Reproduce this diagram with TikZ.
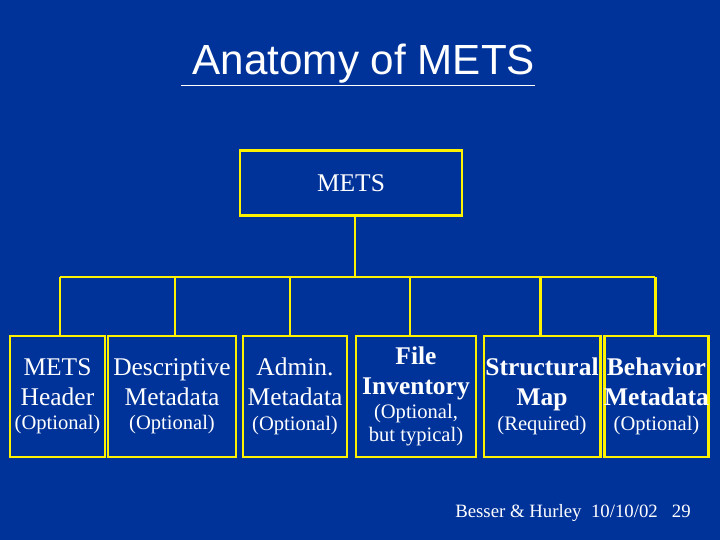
\documentclass[tikz,border=0pt]{standalone}
\usepackage{fontspec}
\setmainfont{Liberation Serif}
\setsansfont{Liberation Sans}
\definecolor{slideblue}{RGB}{0,51,153}
\newcommand\optsz{\fontsize{11.7}{13}\selectfont}
\begin{document}
\begin{tikzpicture}[x=0.02cm,y=-0.02cm,font=\fontsize{14.5}{17}\selectfont,
  box/.style={draw=yellow, line width=1.7pt, text=white, align=center, inner sep=0pt},
  bus/.style={draw=yellow, line width=1.7pt}]

\fill[slideblue] (0,0) rectangle (720,540);

\node[text=white, font=\sffamily\fontsize{24}{28}\selectfont] (title) at (358,65) {\underline{\ Anatomy of METS}};

\node[box, minimum width=222*0.02cm, minimum height=65*0.02cm] (mets) at (351,183) {METS};

\node[box, minimum width=95*0.02cm, minimum height=121*0.02cm] (hdr) at (57.5,396.5)
  {METS\\Header\\[-3pt]{\optsz (Optional)}};
\node[box, minimum width=128*0.02cm, minimum height=121*0.02cm] (dmd) at (172,396.5)
  {Descriptive\\Metadata\\[-3pt]{\optsz (Optional)}};
\node[box, minimum width=104*0.02cm, minimum height=121*0.02cm] (amd) at (295,396.5)
  {Admin.\\Metadata\\[-3pt]{\optsz (Optional)}};
\node[box, minimum width=120*0.02cm, minimum height=121*0.02cm, font=\bfseries\fontsize{14.5}{17}\selectfont] (file) at (416,396.5)
  {File\\Inventory\\[-3pt]{\normalfont\optsz (Optional,}\\[-4pt]{\normalfont\optsz but typical)}};
\node[box, minimum width=116*0.02cm, minimum height=121*0.02cm, font=\bfseries\fontsize{14.5}{17}\selectfont] (smap) at (542,396.5)
  {Structural\\Map\\[-3pt]{\normalfont\optsz (Required)}};
\node[box, minimum width=103*0.02cm, minimum height=121*0.02cm, font=\bfseries\fontsize{14.5}{17}\selectfont] (beh) at (656.5,396.5)
  {Behavior\\Metadata\\[-3pt]{\normalfont\optsz (Optional)}};

% bus
\coordinate (top) at (355,277);
\coordinate (left) at (60,277);
\coordinate (right) at (655,277);
\draw[bus] (mets.south -| top) -- (top);
\draw[bus] (left) -- (right);
\draw[bus] (left) -- (left |- hdr.north);
\draw[bus] (175,277) -- (175,277 |- dmd.north);
\draw[bus] (290,277) -- (290,277 |- amd.north);
\draw[bus] (410,277) -- (410,277 |- file.north);
\draw[bus] (540,277) -- (540,277 |- smap.north);
\draw[bus] (right) -- (right |- beh.north);

\node[text=white, font=\fontsize{10.7}{12}\selectfont] (foot) at (573,513) {Besser \& Hurley\ \ 10/10/02\ \ \ 29};
\end{tikzpicture}
\end{document}
